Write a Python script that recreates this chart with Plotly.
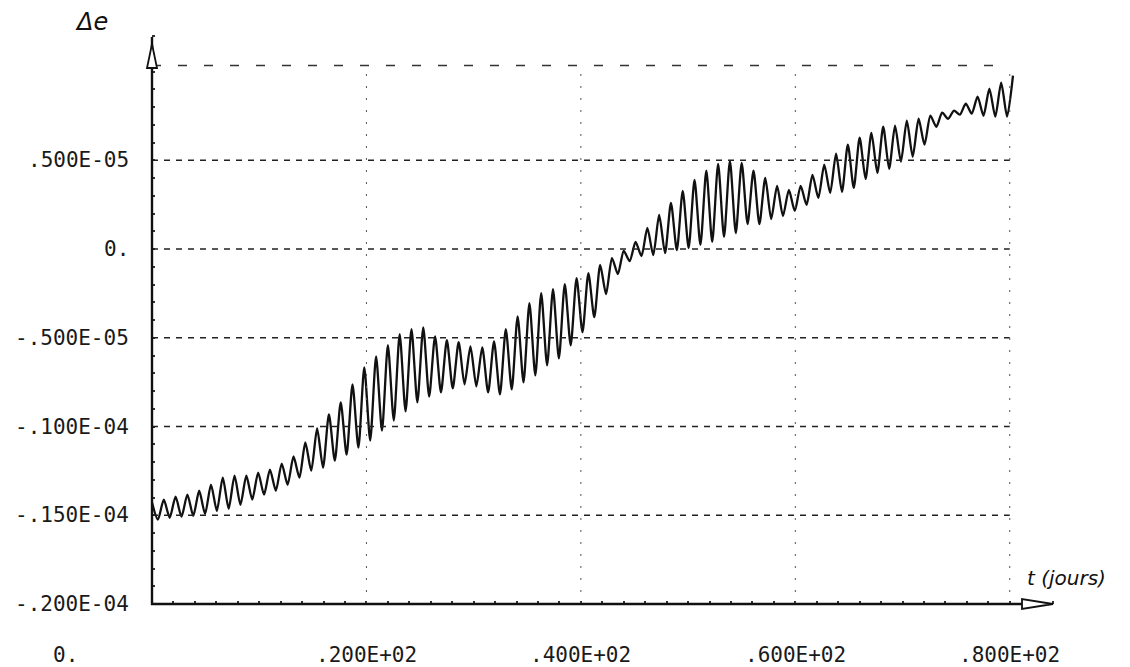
import plotly.graph_objects as go

# ---------------- data ----------------
# times (days) of successive maxima and minima of the oscillation
t_max = [0.0, 1.1, 2.2, 3.3, 4.4, 5.5, 6.6, 7.7, 8.8, 9.9,
         11.0, 12.1, 13.2, 14.3, 15.4, 16.5, 17.6, 18.7, 19.8, 20.9,
         22.0, 23.1, 24.2, 25.3, 26.4, 27.5, 28.6, 29.7, 30.8, 31.9,
         33.0, 34.1, 35.2, 36.3, 37.4, 38.5, 39.6, 40.7, 41.8, 42.9,
         44.0, 45.1, 46.2, 47.3, 48.4, 49.5, 50.6, 51.7, 52.8, 53.9,
         55.0, 56.1, 57.2, 58.3, 59.4, 60.5, 61.6, 62.7, 63.8, 64.9,
         66.0, 67.1, 68.2, 69.3, 70.4, 71.5, 72.6, 73.7, 74.8, 75.9,
         77.0, 78.1, 79.2, 80.3]
t_min = [0.55, 1.65, 2.75, 3.85, 4.95, 6.05, 7.15, 8.25, 9.35, 10.45,
         11.55, 12.65, 13.75, 14.85, 15.95, 17.05, 18.15, 19.25, 20.35, 21.45,
         22.55, 23.65, 24.75, 25.85, 26.95, 28.05, 29.15, 30.25, 31.35, 32.45,
         33.55, 34.65, 35.75, 36.85, 37.95, 39.05, 40.15, 41.25, 42.35, 43.45,
         44.55, 45.65, 46.75, 47.85, 48.95, 50.05, 51.15, 52.25, 53.35, 54.45,
         55.55, 56.65, 57.75, 58.85, 59.95, 61.05, 62.15, 63.25, 64.35, 65.45,
         66.55, 67.65, 68.75, 69.85, 70.95, 72.05, 73.15, 74.25, 75.35, 76.45,
         77.55, 78.65, 79.75]
# Delta e at maxima / minima, in units of 1e-6
de_max = [-14.29, -14.12, -13.95, -13.84, -13.62, -13.28, -12.88, -12.77, -12.77, -12.60,
          -12.43, -12.09, -11.69, -10.90, -10.11, -9.32, -8.64, -7.63, -6.67, -6.05,
          -5.42, -4.80, -4.52, -4.41, -4.92, -5.14, -5.25, -5.48, -5.54, -5.20,
          -4.52, -3.79, -3.05, -2.49, -2.26, -1.98, -1.64, -1.36, -0.90, -0.51,
          -0.11, 0.40, 1.19, 1.92, 2.60, 3.28, 3.90, 4.41, 4.80, 4.97,
          4.86, 4.41, 4.01, 3.56, 3.33, 3.56, 4.18, 4.75, 5.37, 5.88,
          6.27, 6.55, 6.89, 6.95, 7.23, 7.34, 7.51, 7.68, 7.80, 8.19,
          8.59, 9.04, 9.38, 9.77]
de_min = [-15.25, -15.14, -15.08, -15.03, -14.92, -14.75, -14.63, -14.41, -14.12, -13.84,
          -13.62, -13.28, -12.88, -12.49, -12.32, -11.92, -11.58, -11.19, -10.79, -10.23,
          -9.66, -9.15, -8.64, -8.31, -8.08, -7.85, -7.63, -7.74, -8.08, -8.19,
          -7.91, -7.51, -7.12, -6.55, -6.16, -5.42, -4.69, -3.84, -2.54, -1.41,
          -0.68, -0.40, -0.34, -0.23, -0.06, 0.06, 0.23, 0.40, 0.68, 0.90,
          1.41, 1.41, 1.69, 1.86, 2.15, 2.49, 2.88, 3.16, 3.22, 3.45,
          3.95, 4.29, 4.52, 4.92, 5.20, 5.88, 6.89, 7.34, 7.57, 7.63,
          7.51, 7.46, 7.46]

x_tick_vals = [0, 20, 40, 60, 80]
x_tick_text = ["0.", ".200E+02", ".400E+02", ".600E+02", ".800E+02"]
y_tick_vals = [-20e-6, -15e-6, -10e-6, -5e-6, 0.0, 5e-6]
y_tick_text = ["-.200E-04", "-.150E-04", "-.100E-04", "-.500E-05", "0.", ".500E-05"]
y_frame_top = 10.34e-6
x_label = "t (jours)"
y_label = "Δe"

# ---------------- build the series ----------------
xs, ys = [], []
for i in range(len(t_max)):
    xs.append(t_max[i]); ys.append(de_max[i] * 1e-6)
    if i < len(t_min):
        xs.append(t_min[i]); ys.append(de_min[i] * 1e-6)

# ---------------- layout geometry ----------------
W, H = 1130, 667
ML, MR, MT, MB = 152, 72, 35, 63
PW, PH = W - ML - MR, H - MT - MB
X_RANGE = [0, 84.5]
Y_RANGE = [-20e-6, 12.06e-6]


def fx(px):
    return (px - ML) / PW


def fy(py):
    return (H - MB - py) / PH


fig = go.Figure()
fig.add_trace(go.Scatter(
    x=xs, y=ys, mode="lines",
    line=dict(color="#111111", width=2.3, shape="spline", smoothing=0.7),
    hoverinfo="skip", showlegend=False))

shapes = []
# horizontal dashed grid
for v in y_tick_vals[1:]:
    shapes.append(dict(type="line", xref="x", yref="y", x0=0, x1=80, y0=v, y1=v,
                       line=dict(color="#222222", width=1.6, dash="6px,6px")))
# top frame line (sparser dashes)
shapes.append(dict(type="line", xref="x", yref="y", x0=0, x1=80, y0=y_frame_top, y1=y_frame_top,
                   line=dict(color="#333333", width=1.6, dash="9px,17px")))
# vertical dotted grid
for v in x_tick_vals[1:]:
    shapes.append(dict(type="line", xref="x", yref="y", x0=v, x1=v, y0=-20e-6, y1=y_frame_top,
                       line=dict(color="#555555", width=1, dash="2px,10px")))
# axes with arrows (paper coords from pixels)
shapes.append(dict(type="line", xref="paper", yref="paper",
                   x0=fx(152), x1=fx(152), y0=fy(605), y1=fy(37),
                   line=dict(color="#111111", width=2.4)))
shapes.append(dict(type="path", xref="paper", yref="paper",
                   path=f"M {fx(147)} {fy(68)} L {fx(157)} {fy(68)} L {fx(152)} {fy(44)} Z",
                   line=dict(color="#111111", width=1.8), fillcolor="white"))
shapes.append(dict(type="line", xref="paper", yref="paper",
                   x0=fx(151), x1=fx(1023), y0=fy(604), y1=fy(604),
                   line=dict(color="#111111", width=2.4)))
shapes.append(dict(type="path", xref="paper", yref="paper",
                   path=f"M {fx(1022)} {fy(599)} L {fx(1022)} {fy(609)} L {fx(1053)} {fy(604)} Z",
                   line=dict(color="#111111", width=1.8), fillcolor="white"))

annotations = []
lab_font = dict(family="DejaVu Sans Mono", size=21, color="#1a1a1a")
for v, txt in zip(y_tick_vals, y_tick_text):
    annotations.append(dict(x=fx(131), y=v, xref="paper", yref="y", text=txt,
                            showarrow=False, xanchor="right", yanchor="middle", font=lab_font))
for v, txt in zip(x_tick_vals, x_tick_text):
    annotations.append(dict(x=v, y=fy(655), xref="x", yref="paper", text=txt,
                            showarrow=False, xanchor="center", yanchor="middle", font=lab_font,
                            xshift=-87 if v == 0 else 0))
annotations.append(dict(x=fx(91), y=fy(22), xref="paper", yref="paper", text=f"<i>{y_label}</i>",
                        showarrow=False, xanchor="center", yanchor="middle",
                        font=dict(family="DejaVu Sans", size=24, color="#111111")))
annotations.append(dict(x=fx(1066), y=fy(578), xref="paper", yref="paper", text=f"<i>{x_label}</i>",
                        showarrow=False, xanchor="center", yanchor="middle",
                        font=dict(family="DejaVu Sans", size=20, color="#111111")))

axis_common = dict(showgrid=False, zeroline=False, showline=False, showticklabels=False,
                   ticks="inside", ticklen=3, tickwidth=1.5, tickcolor="#333333", fixedrange=True)
fig.update_layout(
    width=W, height=H, autosize=False,
    margin=dict(l=ML, r=MR, t=MT, b=MB, pad=0),
    paper_bgcolor="white", plot_bgcolor="white",
    xaxis=dict(range=X_RANGE, dtick=2, tick0=0, **axis_common),
    yaxis=dict(range=Y_RANGE, dtick=1e-6, tick0=0, **axis_common),
    shapes=shapes, annotations=annotations, showlegend=False,
)

fig.write_html("out.html", config={"displayModeBar": False},
               post_script="document.body.style.margin='0';document.body.style.padding='0';"
                           "document.body.style.overflow='hidden';")
